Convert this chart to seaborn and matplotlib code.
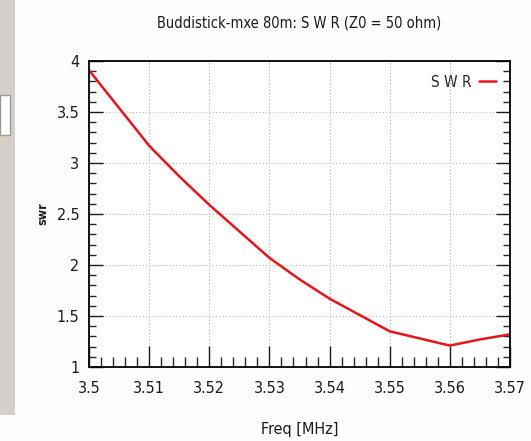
import pandas as pd
import seaborn as sns
import matplotlib.pyplot as plt
from matplotlib.patches import Rectangle
from matplotlib.ticker import MultipleLocator

# Valores (SWR frente a frecuencia)
freq = [3.500, 3.505, 3.510, 3.515, 3.520, 3.525, 3.530, 3.535,
        3.540, 3.545, 3.550, 3.555, 3.560, 3.565, 3.570]
swr = [3.91, 3.54, 3.17, 2.87, 2.59, 2.33, 2.07, 1.86,
       1.67, 1.51, 1.35, 1.28, 1.21, 1.27, 1.32]
xticks = [3.5, 3.51, 3.52, 3.53, 3.54, 3.55, 3.56, 3.57]
xlabels = ['3.5', '3.51', '3.52', '3.53', '3.54', '3.55', '3.56', '3.57']
yticks = [1, 1.5, 2, 2.5, 3, 3.5, 4]
ylabels = ['1', '1.5', '2', '2.5', '3', '3.5', '4']

df = pd.DataFrame({'freq': freq, 'swr': swr, 'serie': 'S W R'})

sns.set_theme(style='white')
plt.rcParams['font.family'] = ['DejaVu Sans']
plt.rcParams['font.stretch'] = 'condensed'

fig = plt.figure(figsize=(5.31, 4.41), dpi=100, facecolor='#fdfdfd')

# franja gris de la ventana a la izquierda
fig.patches.append(Rectangle((0, 26 / 441), 15 / 531, 415 / 441, transform=fig.transFigure,
                             facecolor='#d4d0c8', edgecolor='none', zorder=0))
fig.patches.append(Rectangle((0, 306 / 441), 10 / 531, 40 / 441, transform=fig.transFigure,
                             facecolor='white', edgecolor='#9a9a9a', linewidth=1, zorder=1))

ax = fig.add_axes([89 / 531, 74 / 441, 421 / 531, 306 / 441])
ax.set_facecolor('white')

sns.lineplot(data=df, x='freq', y='swr', hue='serie', palette=['#e8141b'],
             linewidth=1.8, ax=ax)

ax.set_xlim(3.5, 3.57)
ax.set_ylim(1, 4)
ax.set_xticks(xticks)
ax.set_xticklabels(xlabels)
ax.set_yticks(yticks)
ax.set_yticklabels(ylabels)
ax.xaxis.set_minor_locator(MultipleLocator(0.002))
ax.yaxis.set_minor_locator(MultipleLocator(0.1))

ax.grid(True, which='major', linestyle=(0, (1, 2)), color='#b8b8b8', linewidth=0.8)
for s in ax.spines.values():
    s.set_color('black')
    s.set_linewidth(1.3)

ax.tick_params(axis='x', which='major', direction='in', length=15, width=1, labelsize=11.5,
               pad=10, colors='#1a1a1a', bottom=True)
ax.tick_params(axis='x', which='minor', direction='in', length=7, width=1, bottom=True)
ax.tick_params(axis='y', which='major', direction='in', length=10, width=1, labelsize=11.5,
               pad=7, colors='#1a1a1a', left=True, right=True)
ax.tick_params(axis='y', which='minor', direction='in', length=5, width=1, left=True, right=True)

ax.set_xlabel('Freq [MHz]', fontsize=11.5, color='#1a1a1a', labelpad=19)
ax.set_ylabel('swr', fontsize=9, color='#1a1a1a', labelpad=5, fontweight='bold')
ax.set_title('Buddistick-mxe 80m: S W R (Z0 = 50 ohm)', fontsize=10.5, color='#1a1a1a', pad=24)

ax.legend(loc='upper right', frameon=False, markerfirst=False, handlelength=1.1,
          handletextpad=0.5, fontsize=11, borderaxespad=0.5, title=None)

fig.savefig('out.png', dpi=100, facecolor=fig.get_facecolor())
